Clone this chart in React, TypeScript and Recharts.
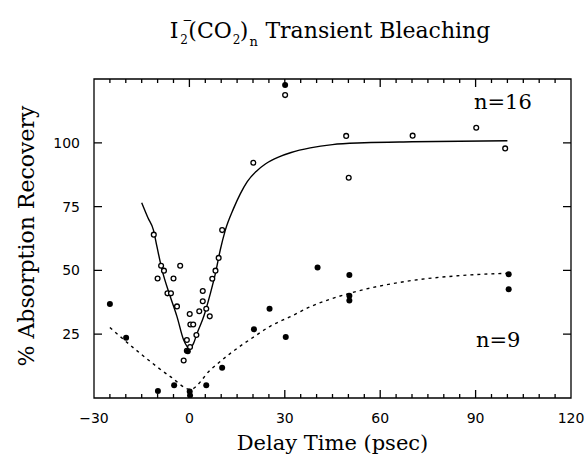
import { ComposedChart, Scatter, Line, XAxis, YAxis } from "recharts";

// n=16 open circles
const openX = [-11.2, -8.9, -8.0, -10.0, -5.0, -2.9, -6.9, -5.8, -3.9, 0.1, 0.3, 1.2, -0.8, 2.2, -0.8, 0.2, -1.8, 3.1, 4.2, 4.2, 5.3, 6.4, 7.2, 8.2, 9.2, 10.3, 20.1, 30.1, 49.3, 50.1, 70.2, 90.2, 99.3];
const openY = [64, 51.8, 49.9, 46.8, 46.8, 51.8, 41, 41, 35.9, 32.9, 28.8, 28.8, 22.7, 24.7, 18.5, 20, 14.7, 34, 41.9, 37.9, 35, 32, 46.7, 49.9, 54.9, 65.8, 92.2, 118.7, 102.7, 86.3, 102.8, 105.9, 97.8];

// n=9 filled circles
const fillX = [-25, -19.9, -9.9, -4.8, 0.1, 0.2, -0.5, 5.3, 10.3, 20.3, 25.2, 30.3, 30.1, 40.3, 50.3, 50.3, 50.3, 100.4, 100.4];
const fillY = [36.8, 23.6, 2.7, 5, 2.5, 1.0, 18.3, 5, 11.9, 26.9, 35, 23.9, 122.6, 51.1, 48.2, 40.1, 38.2, 48.5, 42.6];

// fitted curves
const solidX = [-15, -13, -11.3, -10.2, -8.6, -6, -3.9, -1.8, 0, 1.3, 2.4, 4.5, 6.6, 8.2, 9.7, 11.3, 13.9, 16, 18.2, 21, 24, 28, 32, 38, 45, 55, 70, 100];
const solidY = [76.5, 70.5, 65.8, 59.3, 50.2, 39.7, 31.9, 22.7, 19.5, 21.4, 25.3, 31.9, 41.0, 48.9, 58.0, 65.8, 74.3, 80, 84.8, 88.8, 91.8, 94.4, 96.2, 98, 99.3, 100, 100.4, 100.8];
const dashX = [-25, -15.5, -6, 0.3, 6.6, 12.9, 20.3, 25.5, 31.8, 38.1, 50.3, 67.6, 84.4, 100.4];
const dashY = [27.6, 17.5, 8.4, 3.4, 11.0, 17.5, 24.0, 28.2, 31.9, 35.8, 41.0, 45.6, 47.9, 48.9];

const xTicks = [-30, -25, -20, -15, -10, -5, 0, 5, 10, 15, 20, 25, 30, 35, 40, 45, 50, 55, 60, 65, 70, 75, 80, 85, 90, 95, 100, 105, 110, 115, 120];
const xLabels = [-30, 0, 30, 60, 90, 120];
const yTicks = [0, 25, 50, 75, 100, 125];
const yLabels = [25, 50, 75, 100];
const X_DOMAIN = [-30, 120];
const Y_DOMAIN = [0, 125];

const zip = (xs: number[], ys: number[]) => xs.map((x, i) => ({ x, y: ys[i] }));
const openData = zip(openX, openY);
const fillData = zip(fillX, fillY);
const solidData = zip(solidX, solidY);
const dashData = zip(dashX, dashY);

// chart layout
const W = 585;
const H = 456;
const M = { top: 79, right: 14, bottom: 0, left: 0 };
const X_AXIS_H = 58;
const Y_AXIS_W = 94;
const PLOT_L = Y_AXIS_W;
const PLOT_T = M.top;
const PLOT_W = W - Y_AXIS_W - M.right;
const PLOT_H = H - M.top - X_AXIS_H;

const font = "'DejaVu Serif', serif";
const tickFont = "'DejaVu Sans', sans-serif";

// same linear mapping as the chart's axes, used for the frame's tick marks
const px = (v: number) => PLOT_L + ((v - X_DOMAIN[0]) / (X_DOMAIN[1] - X_DOMAIN[0])) * PLOT_W;
const py = (v: number) => PLOT_T + ((Y_DOMAIN[1] - v) / (Y_DOMAIN[1] - Y_DOMAIN[0])) * PLOT_H;

const BottomTick = (p: any) => {
  const v = p.payload.value;
  if (!xLabels.includes(v)) return <g />;
  return (
    <text x={p.x} y={p.y + 25} textAnchor="middle" fontSize={14} fontFamily={tickFont} fill="#000">
      {v < 0 ? "\u2212" + Math.abs(v) : v}
    </text>
  );
};

const LeftTick = (p: any) => {
  const v = p.payload.value;
  if (!yLabels.includes(v)) return <g />;
  return (
    <text x={p.x - 14} y={p.y + 5} textAnchor="end" fontSize={14} fontFamily={tickFont} fill="#000">
      {v}
    </text>
  );
};

// box round the plot, with inward ticks on all four sides
function Frame() {
  const B = PLOT_T + PLOT_H;
  const R = PLOT_L + PLOT_W;
  let d = `M${PLOT_L},${PLOT_T}H${R}V${B}H${PLOT_L}Z`;
  xTicks.slice(1, -1).forEach((v) => {
    const len = v % 30 === 0 ? 8 : 4;
    const x = px(v).toFixed(1);
    d += `M${x},${B}v${-len}M${x},${PLOT_T}v${len}`;
  });
  yTicks.slice(1, -1).forEach((v) => {
    const y = py(v).toFixed(1);
    d += `M${PLOT_L},${y}h8M${R},${y}h-8`;
  });
  return (
    <svg width={W} height={H} style={{ position: "absolute", left: 0, top: 0, pointerEvents: "none" }}>
      <path d={d} fill="none" stroke="#000" strokeWidth={1.3} />
    </svg>
  );
}

const OpenDot = (p: any) => <circle cx={p.cx} cy={p.cy} r={2.4} fill="#fff" stroke="#000" strokeWidth={1.3} />;
const FillDot = (p: any) => <circle cx={p.cx} cy={p.cy} r={3} fill="#000" />;

export default function App() {
  return (
    <div style={{ position: "absolute", left: 0, top: 0, width: W, height: H, background: "#fff", fontFamily: font }}>
      <ComposedChart width={W} height={H} margin={M}>
        <XAxis type="number" dataKey="x" domain={X_DOMAIN} ticks={xTicks} interval={0} allowDataOverflow
          height={X_AXIS_H} tickSize={0} tickMargin={0} tickLine={false} tick={BottomTick} axisLine={false} />
        <YAxis type="number" domain={Y_DOMAIN} ticks={yTicks} interval={0} allowDataOverflow
          width={Y_AXIS_W} tickSize={0} tickMargin={0} tickLine={false} tick={LeftTick} axisLine={false} />
        <Line data={solidData} dataKey="y" type="monotone" stroke="#000" strokeWidth={1.4} dot={false} isAnimationActive={false} />
        <Line data={dashData} dataKey="y" type="monotone" stroke="#000" strokeWidth={1.4} strokeDasharray="3 4" dot={false} isAnimationActive={false} />
        <Scatter data={openData} dataKey="y" shape={OpenDot} isAnimationActive={false} />
        <Scatter data={fillData} dataKey="y" shape={FillDot} isAnimationActive={false} />
      </ComposedChart>

      <Frame />

      <div style={{ position: "absolute", left: 0, width: 660, top: 16, textAlign: "center", fontFamily: font, fontSize: 22, lineHeight: "30px", whiteSpace: "nowrap" }}>
        I
        <span style={{ position: "relative", display: "inline-block", width: 10, height: 0 }}>
          <span style={{ position: "absolute", left: 4, top: -24, fontSize: 12, lineHeight: "12px" }}>{"\u2212"}</span>
          <span style={{ position: "absolute", left: 2, top: -4, fontSize: 12, lineHeight: "12px" }}>2</span>
        </span>
        (CO
        <span style={{ position: "relative", display: "inline-block", width: 8, height: 0 }}>
          <span style={{ position: "absolute", left: 1, top: -4, fontSize: 12, lineHeight: "12px" }}>2</span>
        </span>
        )
        <span style={{ position: "relative", display: "inline-block", width: 10, height: 0 }}>
          <span style={{ position: "absolute", left: 1, top: -3, fontSize: 13, lineHeight: "13px" }}>n</span>
        </span>
        {" Transient Bleaching"}
      </div>

      <div style={{ position: "absolute", left: PLOT_L, width: PLOT_W, top: 430, textAlign: "center", fontFamily: font, fontSize: 21, lineHeight: "26px", whiteSpace: "nowrap" }}>
        Delay Time (psec)
      </div>

      <div style={{ position: "absolute", left: 27, top: 236, transform: "translate(-50%, -50%) rotate(-90deg)", fontFamily: font, fontSize: 22, lineHeight: "26px", whiteSpace: "nowrap" }}>
        % Absorption Recovery
      </div>

      <div style={{ position: "absolute", left: 474, top: 88, fontFamily: font, fontSize: 21, lineHeight: "28px" }}>n=16</div>
      <div style={{ position: "absolute", left: 476, top: 326, fontFamily: font, fontSize: 21, lineHeight: "28px" }}>n=9</div>
    </div>
  );
}
